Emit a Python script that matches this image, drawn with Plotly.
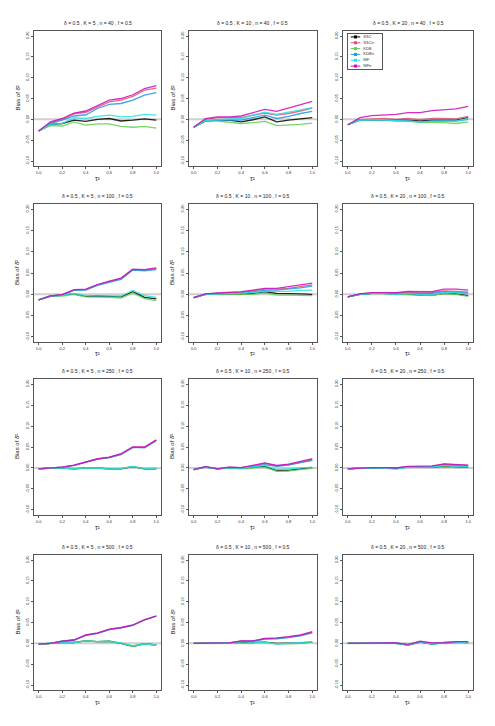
import plotly.graph_objects as go

# x grid (tau^2) and tick labels
tau2 = [0.0, 0.1, 0.2, 0.3, 0.4, 0.5, 0.6, 0.7, 0.8, 0.9, 1.0]
x_ticks = [0.0, 0.2, 0.4, 0.6, 0.8, 1.0]
x_tick_text = ["0.0", "0.2", "0.4", "0.6", "0.8", "1.0"]
y_ticks = [-0.10, -0.05, 0.00, 0.05, 0.10, 0.15, 0.20]
y_tick_text = ["-0.10", "-0.05", "0.00", "0.05", "0.10", "0.15", "0.20"]

methods = ["SSC", "SSCtr", "KDB", "KDBtr", "MF", "MFtr"]
colors = ["#000000", "#DF536B", "#61D04F", "#2297E6", "#28E2E5", "#CD0BBC"]

k_values = [5, 10, 20]
n_values = [40, 100, 250, 500]

# bias estimates, one dict per panel
bias_k5_n40 = {
    "SSC": [-0.028, -0.012, -0.010, -0.002, -0.005, 0.000, 0.002, -0.004, -0.002, 0.001, -0.002],
    "SSCtr": [-0.028, -0.008, 0.000, 0.013, 0.017, 0.030, 0.042, 0.046, 0.055, 0.070, 0.075],
    "KDB": [-0.028, -0.015, -0.016, -0.006, -0.014, -0.011, -0.011, -0.017, -0.019, -0.017, -0.021],
    "KDBtr": [-0.028, -0.010, -0.002, 0.008, 0.011, 0.026, 0.036, 0.038, 0.046, 0.058, 0.064],
    "MF": [-0.028, -0.012, -0.010, 0.004, 0.002, 0.007, 0.010, 0.006, 0.007, 0.012, 0.010],
    "MFtr": [-0.028, -0.006, 0.002, 0.015, 0.020, 0.034, 0.046, 0.050, 0.059, 0.074, 0.081],
}
bias_k10_n40 = {
    "SSC": [-0.019, -0.004, -0.002, -0.002, -0.006, -0.001, 0.006, -0.006, -0.002, 0.001, 0.004],
    "SSCtr": [-0.019, 0.000, 0.004, 0.004, 0.004, 0.010, 0.015, 0.010, 0.014, 0.020, 0.027],
    "KDB": [-0.019, -0.004, -0.004, -0.007, -0.010, -0.008, -0.005, -0.015, -0.014, -0.012, -0.009],
    "KDBtr": [-0.019, -0.003, -0.002, -0.001, -0.002, 0.004, 0.010, 0.002, 0.007, 0.014, 0.019],
    "MF": [-0.019, -0.003, -0.001, 0.001, 0.002, 0.010, 0.017, 0.012, 0.017, 0.022, 0.028],
    "MFtr": [-0.019, 0.002, 0.006, 0.006, 0.008, 0.016, 0.024, 0.019, 0.027, 0.035, 0.043],
}
bias_k20_n40 = {
    "SSC": [-0.013, -0.001, -0.001, -0.001, -0.002, -0.002, -0.004, -0.002, -0.002, -0.002, 0.004],
    "SSCtr": [-0.013, -0.001, 0.001, 0.002, 0.000, 0.002, -0.001, 0.002, 0.002, 0.001, 0.007],
    "KDB": [-0.013, -0.002, -0.002, -0.002, -0.004, -0.004, -0.007, -0.007, -0.008, -0.010, -0.006],
    "KDBtr": [-0.013, -0.002, -0.002, -0.001, -0.003, -0.003, -0.006, -0.004, -0.004, -0.004, 0.000],
    "MF": [-0.013, -0.002, -0.001, -0.001, -0.003, -0.004, -0.006, -0.005, -0.005, -0.004, 0.002],
    "MFtr": [-0.013, 0.004, 0.009, 0.011, 0.012, 0.016, 0.016, 0.021, 0.023, 0.025, 0.031],
}
bias_k5_n100 = {
    "SSC": [-0.013, -0.004, -0.002, 0.001, -0.005, -0.004, -0.005, -0.006, 0.006, -0.007, -0.011],
    "SSCtr": [-0.013, -0.004, -0.001, 0.010, 0.011, 0.022, 0.030, 0.037, 0.058, 0.057, 0.060],
    "KDB": [-0.013, -0.005, -0.004, 0.000, -0.006, -0.006, -0.007, -0.009, 0.003, -0.010, -0.015],
    "KDBtr": [-0.013, -0.005, -0.002, 0.009, 0.010, 0.021, 0.028, 0.035, 0.057, 0.055, 0.058],
    "MF": [-0.013, -0.004, -0.002, 0.002, -0.003, -0.003, -0.004, -0.004, 0.009, -0.003, -0.007],
    "MFtr": [-0.013, -0.004, -0.001, 0.011, 0.012, 0.023, 0.031, 0.038, 0.059, 0.058, 0.062],
}
bias_k10_n100 = {
    "SSC": [-0.008, 0.000, 0.001, 0.001, 0.000, 0.002, 0.006, 0.002, 0.002, 0.001, 0.000],
    "SSCtr": [-0.008, 0.001, 0.002, 0.003, 0.004, 0.008, 0.012, 0.012, 0.014, 0.018, 0.022],
    "KDB": [-0.008, 0.000, 0.000, 0.000, -0.001, 0.000, 0.003, -0.002, -0.002, -0.002, -0.003],
    "KDBtr": [-0.008, 0.000, 0.002, 0.002, 0.002, 0.006, 0.009, 0.010, 0.012, 0.015, 0.019],
    "MF": [-0.008, 0.000, 0.001, 0.002, 0.002, 0.004, 0.007, 0.007, 0.007, 0.009, 0.010],
    "MFtr": [-0.008, 0.001, 0.003, 0.004, 0.006, 0.010, 0.014, 0.014, 0.018, 0.022, 0.026],
}
bias_k20_n100 = {
    "SSC": [-0.006, 0.000, 0.002, 0.002, 0.000, 0.001, -0.002, -0.002, 0.002, 0.001, -0.003],
    "SSCtr": [-0.006, 0.001, 0.003, 0.003, 0.003, 0.005, 0.003, 0.004, 0.008, 0.007, 0.005],
    "KDB": [-0.006, 0.000, 0.002, 0.001, 0.000, 0.000, -0.002, -0.003, 0.002, 0.000, -0.005],
    "KDBtr": [-0.006, 0.000, 0.002, 0.002, 0.002, 0.003, 0.002, 0.002, 0.006, 0.005, 0.003],
    "MF": [-0.006, 0.000, 0.002, 0.002, -0.001, 0.002, -0.001, -0.001, 0.004, 0.004, 0.001],
    "MFtr": [-0.006, 0.001, 0.004, 0.004, 0.004, 0.007, 0.006, 0.006, 0.012, 0.012, 0.010],
}
bias_k5_n250 = {
    "SSC": [-0.002, 0.000, 0.000, -0.002, 0.000, 0.000, -0.002, -0.002, 0.003, -0.002, -0.002],
    "SSCtr": [-0.002, 0.000, 0.002, 0.006, 0.013, 0.021, 0.025, 0.033, 0.049, 0.049, 0.066],
    "KDB": [-0.002, 0.000, 0.000, -0.002, 0.000, 0.000, -0.003, -0.002, 0.003, -0.002, -0.003],
    "KDBtr": [-0.002, 0.000, 0.002, 0.006, 0.013, 0.021, 0.025, 0.032, 0.049, 0.048, 0.065],
    "MF": [-0.002, 0.000, 0.000, -0.001, 0.000, 0.000, -0.002, -0.001, 0.004, -0.001, -0.001],
    "MFtr": [-0.002, 0.000, 0.002, 0.007, 0.014, 0.022, 0.026, 0.034, 0.050, 0.050, 0.067],
}
bias_k10_n250 = {
    "SSC": [-0.004, 0.002, -0.002, 0.001, -0.001, 0.001, 0.004, -0.006, -0.006, -0.002, 0.001],
    "SSCtr": [-0.004, 0.003, -0.002, 0.002, 0.001, 0.005, 0.011, 0.005, 0.008, 0.014, 0.019],
    "KDB": [-0.004, 0.002, -0.002, 0.000, -0.002, 0.000, 0.002, -0.008, -0.007, -0.004, -0.001],
    "KDBtr": [-0.004, 0.003, -0.002, 0.001, 0.000, 0.004, 0.008, 0.004, 0.007, 0.013, 0.018],
    "MF": [-0.004, 0.002, -0.002, 0.001, 0.000, 0.002, 0.006, -0.004, -0.002, 0.000, 0.002],
    "MFtr": [-0.004, 0.003, -0.002, 0.002, 0.001, 0.006, 0.012, 0.006, 0.009, 0.016, 0.022],
}
bias_k20_n250 = {
    "SSC": [-0.002, 0.000, 0.000, 0.000, -0.001, 0.002, 0.002, 0.002, 0.004, 0.003, 0.002],
    "SSCtr": [-0.002, 0.000, 0.001, 0.001, 0.000, 0.003, 0.003, 0.004, 0.009, 0.007, 0.006],
    "KDB": [-0.002, 0.000, 0.000, 0.000, -0.001, 0.002, 0.002, 0.003, 0.005, 0.003, 0.002],
    "KDBtr": [-0.002, 0.000, 0.000, 0.001, -0.001, 0.003, 0.003, 0.004, 0.007, 0.006, 0.005],
    "MF": [-0.002, 0.000, 0.000, 0.000, -0.003, 0.002, 0.002, 0.002, 0.006, 0.004, 0.004],
    "MFtr": [-0.002, 0.000, 0.001, 0.001, 0.000, 0.004, 0.004, 0.005, 0.010, 0.008, 0.007],
}
bias_k5_n500 = {
    "SSC": [-0.002, 0.000, 0.002, 0.002, 0.006, 0.004, 0.005, 0.000, -0.007, -0.001, -0.004],
    "SSCtr": [-0.002, 0.000, 0.005, 0.008, 0.019, 0.024, 0.033, 0.037, 0.043, 0.056, 0.065],
    "KDB": [-0.002, 0.000, 0.002, 0.002, 0.006, 0.004, 0.005, 0.000, -0.008, -0.001, -0.004],
    "KDBtr": [-0.002, 0.000, 0.005, 0.008, 0.019, 0.024, 0.033, 0.037, 0.043, 0.056, 0.065],
    "MF": [-0.002, 0.000, 0.002, 0.002, 0.006, 0.004, 0.005, 0.001, -0.006, -0.001, -0.004],
    "MFtr": [-0.002, 0.000, 0.005, 0.008, 0.020, 0.025, 0.034, 0.038, 0.044, 0.057, 0.066],
}
bias_k10_n500 = {
    "SSC": [0.000, 0.000, 0.001, 0.001, 0.001, 0.002, 0.003, 0.000, 0.000, 0.001, 0.003],
    "SSCtr": [0.000, 0.000, 0.001, 0.001, 0.005, 0.005, 0.011, 0.012, 0.015, 0.019, 0.026],
    "KDB": [0.000, 0.000, 0.001, 0.001, 0.000, 0.001, 0.002, -0.001, -0.001, 0.000, 0.003],
    "KDBtr": [0.000, 0.000, 0.001, 0.001, 0.005, 0.005, 0.010, 0.011, 0.014, 0.018, 0.025],
    "MF": [0.000, 0.000, 0.001, 0.001, 0.000, 0.002, 0.003, -0.002, 0.000, 0.001, 0.004],
    "MFtr": [0.000, 0.000, 0.001, 0.001, 0.006, 0.006, 0.012, 0.013, 0.016, 0.020, 0.028],
}
bias_k20_n500 = {
    "SSC": [0.000, 0.000, 0.000, 0.000, 0.000, -0.004, 0.003, -0.002, 0.002, 0.003, 0.002],
    "SSCtr": [0.000, 0.000, 0.000, 0.001, 0.001, -0.003, 0.004, 0.000, 0.001, 0.003, 0.003],
    "KDB": [0.000, 0.000, 0.000, 0.000, 0.000, -0.003, 0.003, -0.002, 0.002, 0.002, 0.001],
    "KDBtr": [0.000, 0.000, 0.000, 0.001, 0.001, -0.003, 0.004, 0.000, 0.001, 0.003, 0.003],
    "MF": [0.000, 0.000, 0.000, 0.001, 0.000, -0.004, 0.004, -0.002, 0.001, 0.003, 0.002],
    "MFtr": [0.000, 0.000, 0.000, 0.001, 0.001, -0.003, 0.005, 0.001, 0.001, 0.004, 0.004],
}

panels = [
    [bias_k5_n40, bias_k10_n40, bias_k20_n40],
    [bias_k5_n100, bias_k10_n100, bias_k20_n100],
    [bias_k5_n250, bias_k10_n250, bias_k20_n250],
    [bias_k5_n500, bias_k10_n500, bias_k20_n500],
]

# page geometry in pixels
W, H = 495, 726
col_px = [(34, 161), (189, 317), (343, 473)]
row_px = [(31, 166), (204, 342), (379, 515), (555, 690)]
FONT = "Liberation Sans, Arial, sans-serif"


def px_x(v):
    return v / W


def px_y(v):
    return 1 - v / H


def note(text, x, y, size, angle=0):
    """Centered annotation placed by pixel position."""
    return dict(
        text=text, x=px_x(x), y=px_y(y), xref="paper", yref="paper",
        xanchor="center", yanchor="middle", textangle=angle, showarrow=False,
        font=dict(size=size, family=FONT, color="#222222"),
    )


fig = go.Figure()
layout = {}
shapes = []
annotations = []

for r, n in enumerate(n_values):
    for c, k in enumerate(k_values):
        idx = r * 3 + c + 1
        xa = "x" if idx == 1 else f"x{idx}"
        ya = "y" if idx == 1 else f"y{idx}"
        data = panels[r][c]
        for m, col in zip(methods, colors):
            fig.add_trace(go.Scatter(
                x=tau2, y=data[m], mode="lines", name=m,
                line=dict(color=col, width=1.3), opacity=0.85,
                xaxis=xa, yaxis=ya, showlegend=False,
            ))
        x0, x1 = col_px[c]
        y0, y1 = row_px[r]
        axis_common = dict(
            showline=True, mirror=True, linecolor="#555555", linewidth=1,
            ticks="outside", ticklen=2, tickcolor="#555555", tickwidth=0.8,
            showgrid=False, zeroline=False,
            tickfont=dict(size=4, family=FONT, color="#333333"),
        )
        layout[f"xaxis{idx}"] = dict(
            axis_common, domain=[px_x(x0), px_x(x1)], anchor=ya,
            range=[-0.04, 1.04], tickvals=x_ticks, ticktext=x_tick_text,
        )
        layout[f"yaxis{idx}"] = dict(
            axis_common, domain=[px_y(y1), px_y(y0)], anchor=xa,
            range=[-0.112, 0.212], tickvals=y_ticks, ticktext=y_tick_text,
            tickangle=-90,
        )
        # grey reference line at zero bias
        shapes.append(dict(
            type="line", xref=f"{xa} domain", yref=ya, x0=0, x1=1, y0=0, y1=0,
            line=dict(color="#d0d0d0", width=2), layer="below",
        ))
        mid_x = (x0 + x1) / 2
        annotations.append(note(f"δ = 0.5 , K = {k} , n = {n} , f = 0.5", mid_x, y0 - 8, 5))
        annotations.append(note("τ²", mid_x, y1 + 12, 6.5))
        if c < 2:
            annotations.append(note("Bias of δ̂²", x0 - 17, (y0 + y1) / 2, 6, -90))

# legend drawn in its own small axis inside the top-right panel
leg_x0, leg_x1, leg_y0, leg_y1 = 348, 382, 34, 69
layout["xaxis13"] = dict(
    domain=[px_x(leg_x0), px_x(leg_x1)], anchor="y13", range=[0, 1],
    showline=True, mirror=True, linecolor="#555555", linewidth=0.8,
    showgrid=False, zeroline=False, showticklabels=False, ticks="",
)
layout["yaxis13"] = dict(
    domain=[px_y(leg_y1), px_y(leg_y0)], anchor="x13", range=[0, 6],
    showline=True, mirror=True, linecolor="#555555", linewidth=0.8,
    showgrid=False, zeroline=False, showticklabels=False, ticks="",
)
for i, (m, col) in enumerate(zip(methods, colors)):
    yy = 5.5 - i
    fig.add_trace(go.Scatter(
        x=[0.08, 0.36], y=[yy, yy], mode="lines", line=dict(color=col, width=1),
        xaxis="x13", yaxis="y13", showlegend=False, hoverinfo="skip",
    ))
    fig.add_trace(go.Scatter(
        x=[0.22], y=[yy], mode="markers",
        marker=dict(color=col, size=3, symbol="square"),
        xaxis="x13", yaxis="y13", showlegend=False, hoverinfo="skip",
    ))
    fig.add_trace(go.Scatter(
        x=[0.45], y=[yy], mode="text", text=[m], textposition="middle right",
        textfont=dict(size=4, family=FONT, color="#333333"),
        xaxis="x13", yaxis="y13", showlegend=False, hoverinfo="skip",
    ))

fig.update_layout(
    width=W, height=H, margin=dict(l=0, r=0, t=0, b=0),
    paper_bgcolor="white", plot_bgcolor="white",
    showlegend=False, shapes=shapes, annotations=annotations,
    **layout,
)

# drop the browser's default body margin so the figure sits at (0, 0)
fig.write_html(
    "out.html",
    config={"displayModeBar": False},
    post_script="document.body.style.margin = '0';",
)
